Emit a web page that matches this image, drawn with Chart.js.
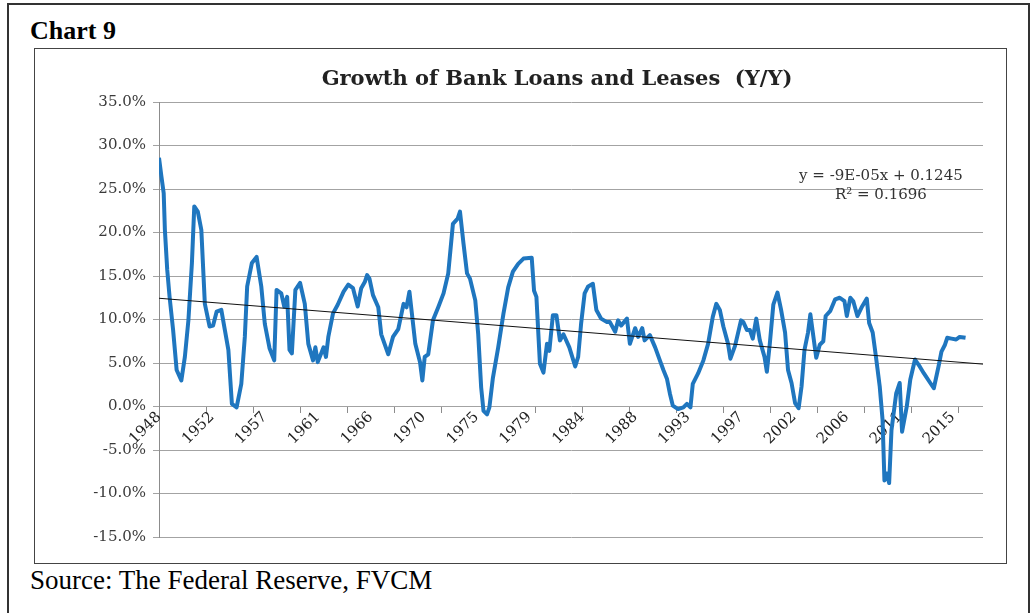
<!DOCTYPE html>
<html>
<head>
<meta charset="utf-8">
<title>Chart 9</title>
<script src="https://cdn.jsdelivr.net/npm/chart.js@4.4.1/dist/chart.umd.min.js"></script>
<style>
  body { margin:0; background:#fff; width:1030px; height:613px; overflow:hidden; position:relative; font-family:"Liberation Serif", serif; color:#000; }
  #frame { position:absolute; left:7px; top:3px; width:1019px; height:660px; border:2px solid #333; }
  #heading { position:absolute; left:30px; top:18px; font-size:26px; line-height:26px; font-weight:bold; }
  #box { position:absolute; left:34px; top:48px; width:971px; height:514px; border:1px solid #444; }
  #title { position:absolute; left:257px; top:67px; width:600px; text-align:center; font-family:"DejaVu Serif", serif; font-weight:bold; font-size:21px; line-height:21px; color:#222; }
  #source { position:absolute; left:30px; top:567px; font-size:27px; line-height:27px; }
  #wrap { position:absolute; left:35px; top:49px; width:971px; height:514px; }
</style>
</head>
<body>
<div id="frame"></div>
<div id="heading">Chart 9</div>
<div id="box"></div>
<div id="wrap"><canvas id="chart" width="971" height="514"></canvas></div>
<div id="title">Growth of Bank Loans and Leases&nbsp; (Y/Y)</div>
<div id="source">Source: The Federal Reserve, FVCM</div>

<script>
// valores (ano decimal, crescimento a/a em %)
const years = [
  1948.0, 1948.2, 1948.4, 1948.5, 1948.7, 1948.9, 1949.2, 1949.5, 1949.9, 1950.2,
  1950.5, 1950.8, 1951.0, 1951.3, 1951.6, 1951.9, 1952.3, 1952.6, 1952.9, 1953.3,
  1953.6, 1953.9, 1954.2, 1954.6, 1955.0, 1955.3, 1955.5, 1955.9, 1956.3, 1956.7,
  1957.0, 1957.4, 1957.8, 1958.0, 1958.4, 1958.65, 1958.9, 1959.1, 1959.3, 1959.6,
  1960.0, 1960.4, 1960.7, 1961.1, 1961.3, 1961.5, 1962.0, 1962.2, 1962.4, 1962.8,
  1963.2, 1963.7, 1964.1, 1964.5, 1964.9, 1965.2, 1965.5, 1965.7, 1965.9, 1966.2,
  1966.65, 1966.9, 1967.5, 1967.9, 1968.35, 1968.8, 1969.05, 1969.3, 1969.8, 1970.2,
  1970.4, 1970.6, 1970.9, 1971.3, 1971.75, 1972.2, 1972.6, 1973.0, 1973.4, 1973.6,
  1973.9, 1974.2, 1974.45, 1974.9, 1975.15, 1975.4, 1975.6, 1975.9, 1976.1, 1976.4,
  1976.85, 1977.3, 1977.7, 1978.1, 1978.55, 1979.0, 1979.7, 1979.9, 1980.1, 1980.4,
  1980.7, 1981.0, 1981.2, 1981.5, 1981.8, 1982.1, 1982.4, 1982.9, 1983.4, 1983.65,
  1983.9, 1984.2, 1984.5, 1984.9, 1985.2, 1985.6, 1986.1, 1986.35, 1986.8, 1987.05,
  1987.3, 1987.8, 1988.05, 1988.5, 1988.75, 1989.1, 1989.3, 1989.75, 1990.2, 1990.6,
  1990.9, 1991.2, 1991.45, 1991.7, 1992.15, 1992.6, 1992.9, 1993.2, 1993.4, 1993.85,
  1994.3, 1994.7, 1995.1, 1995.4, 1995.7, 1996.0, 1996.4, 1996.6, 1997.0, 1997.5,
  1997.7, 1998.0, 1998.25, 1998.5, 1998.8, 1999.1, 1999.5, 1999.7, 1999.95, 2000.25,
  2000.6, 2000.9, 2001.25, 2001.5, 2001.8, 2002.1, 2002.4, 2002.65, 2002.9, 2003.2,
  2003.4, 2003.65, 2003.9, 2004.2, 2004.5, 2004.7, 2005.1, 2005.5, 2005.9, 2006.3,
  2006.5, 2006.8, 2007.05, 2007.4, 2007.8, 2008.2, 2008.4, 2008.7, 2008.97, 2009.3,
  2009.54, 2009.7, 2009.9, 2010.1, 2010.3, 2010.7, 2011.0, 2011.2, 2011.6, 2011.9,
  2012.3, 2012.7, 2013.06, 2013.6, 2013.9, 2014.3, 2014.55, 2014.85, 2015.04, 2015.4,
  2015.8, 2016.1, 2016.6
];
const growth = [
  28.6, 26.5, 24.5, 20.3, 15.7, 12.6, 8.8, 4.2, 3.0, 5.7,
  9.9, 16.5, 23.0, 22.4, 20.3, 11.8, 9.2, 9.3, 10.9, 11.1,
  8.8, 6.5, 0.3, -0.1, 2.6, 8.0, 13.8, 16.5, 17.2, 13.8,
  9.5, 6.7, 5.3, 13.4, 13.0, 11.5, 12.6, 6.5, 6.1, 13.4,
  14.2, 11.8, 7.2, 5.3, 6.8, 5.1, 6.8, 5.7, 8.0, 10.7,
  11.7, 13.2, 14.0, 13.6, 11.5, 13.6, 14.3, 15.1, 14.7, 12.8,
  11.4, 8.3, 6.0, 8.0, 8.9, 11.8, 11.4, 13.2, 7.2, 5.1,
  3.0, 5.7, 6.0, 9.9, 11.4, 13.0, 15.3, 21.0, 21.6, 22.4,
  18.7, 15.3, 14.7, 12.2, 8.3, 2.2, -0.5, -0.9, -0.1, 3.3,
  6.8, 10.7, 13.7, 15.5, 16.4, 17.0, 17.1, 13.3, 12.6, 4.9,
  3.9, 7.2, 6.4, 10.5, 10.5, 7.6, 8.3, 6.8, 4.6, 5.7,
  9.5, 13.0, 13.8, 14.1, 11.1, 10.1, 9.7, 9.7, 8.6, 9.9,
  9.3, 10.1, 7.2, 9.0, 8.0, 9.0, 7.6, 8.2, 6.8, 5.3,
  4.2, 3.2, 1.5, 0.1, -0.3, -0.1, 0.3, -0.1, 2.6, 3.8,
  5.3, 7.2, 10.3, 11.8, 11.1, 9.2, 7.2, 5.5, 7.0, 9.9,
  9.7, 8.8, 8.8, 7.8, 10.1, 7.6, 5.7, 4.0, 7.2, 11.7,
  13.1, 11.2, 8.5, 4.2, 2.7, 0.4, -0.2, 2.3, 6.5, 8.5,
  10.6, 8.1, 5.6, 7.1, 7.5, 10.4, 11.0, 12.3, 12.5, 12.1,
  10.4, 12.5, 12.1, 10.4, 11.5, 12.4, 9.6, 8.5, 5.8, 2.3,
  -1.5, -8.5, -7.7, -8.8, -2.7, 1.5, 2.7, -2.9, 0.0, 3.1,
  5.4, 4.6, 3.8, 2.7, 2.1, 4.6, 6.3, 7.1, 7.9, 7.8,
  7.7, 8.0, 7.9
];

// eixo x: marcas a cada 4 anos, rótulos a cada 54 meses
const xTickMarks = [1948, 1952, 1956, 1960, 1964, 1968, 1972, 1976, 1980, 1984, 1988, 1992, 1996, 2000, 2004, 2008, 2012, 2016];
const xLabelYears = [1948, 1952.5, 1957, 1961.5, 1966, 1970.5, 1975, 1979.5, 1984, 1988.5, 1993, 1997.5, 2002, 2006.5, 2011, 2015.5];
const xTickLabels = ['1948', '1952', '1957', '1961', '1966', '1970', '1975', '1979', '1984', '1988', '1993', '1997', '2002', '2006', '2011', '2015'];
const yTicks = [-15, -10, -5, 0, 5, 10, 15, 20, 25, 30, 35];

// tendência linear do Excel: y = -9E-05x + 0.1245 (x = nº do mês)
const trendSlope = -0.00009;
const trendIntercept = 0.1245;
const trendMonths = [1, 842];
const trendText = ['y = -9E-05x + 0.1245', 'R\u00b2 = 0.1696'];

const xMin = 1948;
const xMax = 1948 + 841 / 12;

const growthPoints = years.map((y, i) => ({ x: y, y: growth[i] }));
const trendPoints = trendMonths.map(m => ({ x: 1948 + (m - 1) / 12, y: (trendIntercept + trendSlope * m) * 100 }));

const tickFont = { family: 'DejaVu Serif', size: 15 };

const trendLabel = {
  id: 'trendLabel',
  afterDatasetsDraw(chart) {
    const { ctx, scales } = chart;
    const cx = scales.x.getPixelForValue(2009.4);
    ctx.save();
    ctx.font = '15px "DejaVu Serif"';
    ctx.fillStyle = '#333';
    ctx.textAlign = 'center';
    ctx.textBaseline = 'alphabetic';
    ctx.fillText(trendText[0], cx, scales.y.getPixelForValue(26.0));
    ctx.fillText(trendText[1], cx, scales.y.getPixelForValue(23.8));
    ctx.restore();
  }
};

new Chart(document.getElementById('chart').getContext('2d'), {
  type: 'line',
  data: {
    datasets: [
      { label: 'Growth', data: growthPoints, borderColor: '#1f76bf', borderWidth: 4, pointRadius: 0, tension: 0, borderJoinStyle: 'round', order: 1 },
      { label: 'Linear', data: trendPoints, borderColor: '#111', borderWidth: 1, pointRadius: 0, order: 0 }
    ]
  },
  options: {
    responsive: false,
    animation: false,
    events: [],
    layout: { padding: { left: 0, right: 23, top: 53, bottom: 26 } },
    plugins: { legend: { display: false }, tooltip: { enabled: false } },
    scales: {
      y: {
        min: -15, max: 35,
        afterBuildTicks: s => { s.ticks = yTicks.map(v => ({ value: v })); },
        afterFit: s => { s.width = 124; },
        grid: { color: '#a3a3a3', lineWidth: 1, tickLength: 6 },
        border: { color: '#8c8c8c' },
        ticks: { font: tickFont, color: '#3a3a3a', padding: 7, callback: v => v.toFixed(1) + '%' }
      },
      x: {
        type: 'linear', position: { y: 0 }, min: xMin, max: xMax,
        afterBuildTicks: s => { s.ticks = xTickMarks.map(v => ({ value: v })); },
        grid: { drawOnChartArea: false, drawTicks: true, tickLength: 6, color: '#8c8c8c' },
        border: { display: false },
        ticks: { display: false }
      },
      xl: {
        type: 'linear', axis: 'x', position: { y: 0 }, min: xMin, max: xMax,
        afterBuildTicks: s => { s.ticks = xLabelYears.map(v => ({ value: v })); },
        grid: { display: false, drawTicks: false },
        border: { display: false },
        ticks: { font: tickFont, color: '#222', autoSkip: false, minRotation: 45, maxRotation: 45, padding: 2,
                 callback: (v, i) => xTickLabels[i] }
      }
    }
  },
  plugins: [trendLabel]
});
</script>
</body>
</html>
